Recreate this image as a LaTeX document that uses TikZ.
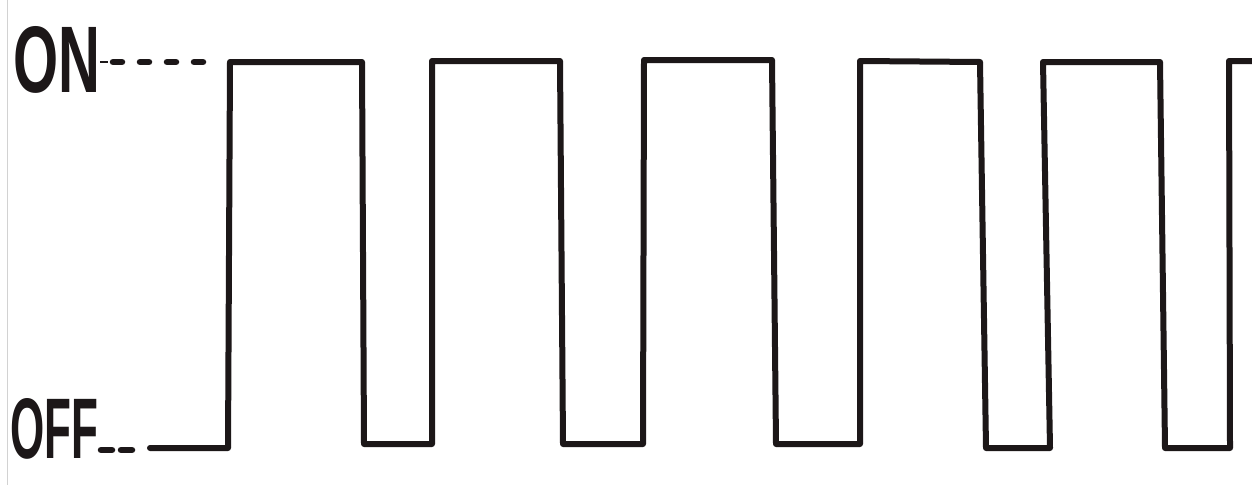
\documentclass[tikz,border=0pt]{standalone}
\usepackage{fontspec}
\setsansfont{Liberation Sans}
\definecolor{ink}{HTML}{1C1718}
\tikzset{
  wave/.style={draw=ink, line width=6pt, line join=round, line cap=round},
  guide/.style={draw=ink, line width=6.5pt, line cap=round, dash pattern=on 9pt off 18pt},
  lbl/.style={inner sep=0pt, outer sep=0pt, text=ink, anchor=north west}
}
\begin{document}
\begin{tikzpicture}[x=1pt, y=-1pt]
\useasboundingbox (0,0) rectangle (1252,485);
\fill[white] (0,0) rectangle (1252,485);
% paper edge
\draw[gray!35, line width=1pt] (7,0) -- (7,485);
% labels
\node[lbl] (on) at (13,26) {\resizebox{87pt}{66pt}{\sffamily\bfseries ON}};
\node[lbl] (off) at (10,398) {\resizebox{88pt}{60pt}{\sffamily\bfseries OFF}};
\coordinate (onend) at (216,62);
\coordinate (offend) at (137,450);
\coordinate (w0) at (150,448);
% guide dashes
\draw[ink, line width=1.2pt] (on.east |- onend) -- ++(8,0);
\draw[guide] ([xshift=13pt]on.east |- onend) -- (onend);
\draw[guide, dash pattern=on 11pt off 9pt] ([xshift=3pt]off.east |- offend) -- (offend);
% waveform
\draw[wave] (w0) -- (228,448) -- (230,62) -- (362,62) -- (364,444) -- (432,444)
  -- (432,61) -- (560,61) -- (563,444) -- (643,444) -- (644,60) -- (772,60)
  -- (776,444) -- (860,444) -- (860,61) -- (980,62) -- (986,448) -- (1050,448)
  -- (1043,62) -- (1160,62) -- (1165,448) -- (1230,448) -- (1229,61) -- (1258,61);
\end{tikzpicture}
\end{document}
